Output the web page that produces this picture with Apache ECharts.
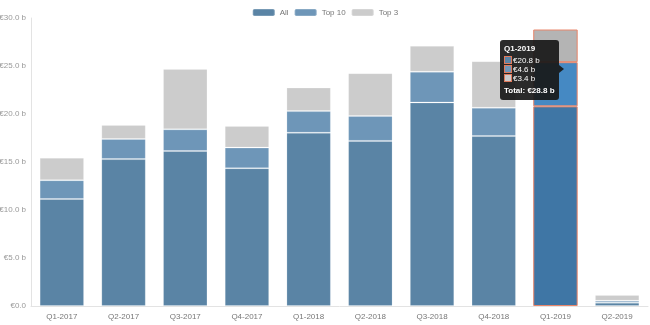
<!DOCTYPE html>
<html>
<head>
<meta charset="utf-8">
<script src="https://cdn.jsdelivr.net/npm/echarts@6/dist/echarts.min.js"></script>
<style>html,body{margin:0;padding:0;background:#fff}#c{width:650px;height:325px}</style>
</head>
<body>
<div id="c"></div>
<script>
const categories = ['Q1-2017','Q2-2017','Q3-2017','Q4-2017','Q1-2018','Q2-2018','Q3-2018','Q4-2018','Q1-2019','Q2-2019'];
const allValues   = [11.15, 15.3, 16.15, 14.35, 18.05, 17.2, 21.2, 17.7, 20.8, 0.35];
const top10Values = [1.95, 2.1, 2.25, 2.15, 2.25, 2.6, 3.2, 2.95, 4.6, 0.2];
const top3Values  = [2.35, 1.45, 6.3, 2.25, 2.45, 4.45, 2.7, 4.85, 3.4, 0.6];
const seriesNames = ['All','Top 10','Top 3'];

const FONT = '"Liberation Sans Narrow", "Liberation Sans", sans-serif';
const colors = ['#5a84a5','#6e96b8','#cccccc'];
const emphColors = ['#3f76a5','#4589c3','#b4b4b4'];

const chart = echarts.init(document.getElementById('c'), null, {renderer:'canvas'});
const mkSeries = (name, data, i) => ({
  name, type:'bar', stack:'total', data,
  barCategoryGap:'28%',
  itemStyle:{color:colors[i], borderColor:'rgba(255,255,255,0.18)', borderWidth:1},
  emphasis:{itemStyle:{color:emphColors[i], borderColor:'#e8856a', borderWidth:1}}
});
chart.setOption({
  animation:false,
  textStyle:{fontFamily:FONT},
  legend:{top:3, left:'center', itemWidth:22, itemHeight:7, itemGap:5,
    textStyle:{color:'#777', fontSize:8, fontFamily:FONT}, data:seriesNames},
  grid:{left:31, right:2, top:18, bottom:19, containLabel:false, outerBoundsMode:'none'},
  tooltip:{trigger:'axis', axisPointer:{type:'none'}, alwaysShowContent:true,
    backgroundColor:'rgba(24,24,24,0.92)', borderWidth:0, padding:[4,4],
    extraCssText:'border-radius:3px;box-shadow:none;',
    textStyle:{color:'#fff', fontSize:8, fontFamily:FONT},
    position:function(){return [500,40];},
    formatter:function(params){
      let s = '<div style="position:relative;line-height:8px;font-size:8px">';
      s += '<div style="font-weight:bold;margin:1px 0 3px">'+params[0].axisValue+'</div>';
      let tot = 0;
      params.forEach(function(p,i){
        tot += p.value;
        s += '<div><span style="display:inline-block;width:6px;height:6px;background:'+colors[i]+';border:1px solid #e07a5c;margin-right:1px;vertical-align:-1px"></span>€'+p.value.toFixed(1)+' b</div>';
      });
      s += '<div style="font-weight:bold;margin:4px 0 1px">Total: €'+tot.toFixed(1)+' b</div>';
      s += '<div style="position:absolute;right:-9px;top:50%;margin-top:-5px;width:0;height:0;border-left:5px solid rgba(24,24,24,0.92);border-top:4px solid transparent;border-bottom:4px solid transparent"></div>';
      s += '</div>';
      return s;
    }
  },
  xAxis:{type:'category', data:categories,
    axisLine:{lineStyle:{color:'#e3e3e3'}}, axisTick:{show:false},
    axisLabel:{color:'#777', fontSize:8, margin:7, fontFamily:FONT}},
  yAxis:{type:'value', min:0, max:30, interval:5,
    axisLine:{show:true, lineStyle:{color:'#e3e3e3'}}, axisTick:{show:false},
    splitLine:{show:false},
    axisLabel:{color:'#999', fontSize:8, margin:5, fontFamily:FONT,
      formatter:function(v){ return v===0 ? '€0.0' : '€'+v.toFixed(1)+' b'; }}},
  series:[mkSeries(seriesNames[0], allValues, 0), mkSeries(seriesNames[1], top10Values, 1), mkSeries(seriesNames[2], top3Values, 2)]
});
chart.dispatchAction({type:'showTip', seriesIndex:0, dataIndex:8});
chart.dispatchAction({type:'highlight', seriesIndex:[0,1,2], dataIndex:8});
</script>
</body>
</html>
